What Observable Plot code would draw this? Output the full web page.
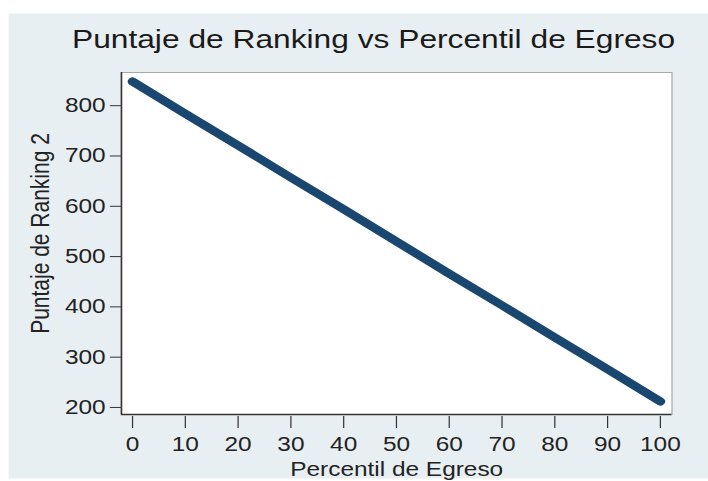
<!DOCTYPE html>
<html>
<head>
<meta charset="utf-8">
<script src="https://cdn.jsdelivr.net/npm/d3@7"></script>
<script src="https://cdn.jsdelivr.net/npm/@observablehq/plot@0.6"></script>
<style>
html, body { margin: 0; padding: 0; background: #ffffff; }
#chart svg { display: block; }
</style>
</head>
<body>
<div id="chart"></div>
<script>
// Data
const percentil = [0, 10, 20, 30, 40, 50, 60, 70, 80, 90, 100];
const puntaje = [848, 784, 721, 657, 594, 530, 466, 403, 339, 276, 212];
const xTicks = [0, 10, 20, 30, 40, 50, 60, 70, 80, 90, 100];
const yTicks = [200, 300, 400, 500, 600, 700, 800];
const chartTitle = "Puntaje de Ranking vs Percentil de Egreso";
const xLabel = "Percentil de Egreso";
const yLabel = "Puntaje de Ranking 2";

const data = percentil.map((p, i) => ({percentil: p, puntaje: puntaje[i]}));

const W = 580, H = 481, OUT_W = 708;
const xDomain = [-2.1, 102.2];
const yDomain = [186, 866];
const font = "'Liberation Sans', Arial, Helvetica, sans-serif";

const svg = Plot.plot({
  width: W,
  height: H,
  marginLeft: 99,
  marginRight: 30,
  marginTop: 72,
  marginBottom: 67,
  style: {fontFamily: font, background: "transparent", color: "#222222", overflow: "visible"},
  x: {domain: xDomain, axis: null},
  y: {domain: yDomain, axis: null},
  marks: [
    Plot.frame({fill: "#e8eff2", stroke: "none", insetLeft: -92.5, insetTop: -59, insetRight: -30, insetBottom: -64}),
    Plot.frame({fill: "#ffffff", stroke: "#a8a8a8", strokeWidth: 1}),
    Plot.ruleX([xDomain[0]], {stroke: "#333333", strokeWidth: 1.3}),
    Plot.ruleY([yDomain[0]], {stroke: "#333333", strokeWidth: 1.3}),
    Plot.axisY(yTicks, {tickSize: 9, tickPadding: 4, fontSize: 20, label: null, stroke: "#333333", fill: "#222222"}),
    Plot.axisX(xTicks, {tickSize: 12, tickPadding: 8, dy: 2, fontSize: 20, label: null, stroke: "#333333", fill: "#222222"}),
    Plot.line(data, {x: "percentil", y: "puntaje", stroke: "#1a476f", strokeWidth: 8, strokeLinecap: "round", strokeLinejoin: "round"}),
    Plot.text([chartTitle], {frameAnchor: "top", dx: -19, dy: -33, lineAnchor: "middle", fontSize: 26, fill: "#1a1a1a"}),
    Plot.text([xLabel], {frameAnchor: "bottom", dy: 55, lineAnchor: "middle", fontSize: 20, fill: "#222222"}),
    Plot.text([yLabel], {frameAnchor: "left", textAnchor: "middle", dx: -66, dy: -10, rotate: -90, lineAnchor: "middle", fontSize: 21, fill: "#222222"})
  ]
});

svg.setAttribute("width", OUT_W);
svg.setAttribute("height", H);
svg.setAttribute("preserveAspectRatio", "none");
svg.style.width = OUT_W + "px";
svg.style.height = H + "px";
svg.style.maxWidth = "none";
document.getElementById("chart").appendChild(svg);
</script>
</body>
</html>
